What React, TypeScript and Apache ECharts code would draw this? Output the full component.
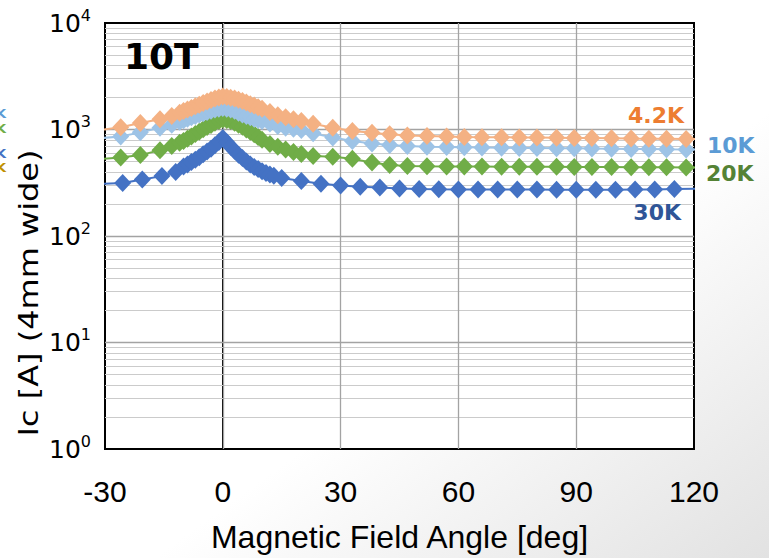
import React, { useEffect, useRef } from "react";
import * as echarts from "echarts";

// Magnetic field angle [deg] sample points (4.2K, 10K, 20K share these)
const anglesA = [
  -31, -26, -21, -16, -13, -11, -10, -9, -8, -7, -6, -5, -4, -3, -2, -1, 0, 1, 2, 3, 4, 5, 6, 7, 8, 9, 10,
  12, 14, 16, 18, 20, 23, 28, 33, 38, 42.5, 47, 52, 57, 61.5, 66, 71, 75.5, 80, 85, 89.5, 94, 99, 104,
  108.5, 113, 118, 123,
];
const ic42K = [
  990, 1050, 1150, 1250, 1340, 1440, 1490, 1540, 1590, 1650, 1710, 1770, 1830, 1890, 1950, 2000, 2040,
  2020, 1990, 1950, 1900, 1850, 1790, 1730, 1680, 1620, 1570, 1460, 1360, 1300, 1250, 1200, 1130, 1040,
  970, 930, 900, 880, 870, 860, 852, 848, 845, 842, 840, 836, 832, 830, 826, 822, 820, 818, 815, 812,
];
const ic10K = [
  830, 860, 940, 1040, 1110, 1180, 1220, 1260, 1300, 1340, 1380, 1420, 1460, 1500, 1540, 1570, 1590,
  1570, 1540, 1500, 1440, 1380, 1340, 1300, 1260, 1230, 1200, 1140, 1080, 1040, 1015, 990, 920, 840,
  780, 740, 715, 700, 690, 685, 680, 678, 675, 672, 670, 668, 665, 662, 660, 657, 655, 652, 650, 648,
];
const ic20K = [
  530, 545, 575, 640, 700, 750, 780, 820, 860, 905, 955, 1005, 1055, 1105, 1155, 1200, 1240, 1230, 1200,
  1160, 1110, 1060, 1000, 950, 900, 850, 800, 730, 690, 650, 615, 590, 565, 555, 530, 490, 465, 455,
  452, 450, 450, 449, 448, 447, 446, 446, 445, 445, 444, 443, 442, 441, 440, 439,
];
// 30K sample points
const anglesB = [
  -35, -30.5, -25.5, -20.5, -15.5, -12, -10, -9, -8, -7, -6, -5, -4, -3, -2, -1, 0, 1, 2, 3, 4, 5, 6, 7, 8,
  9, 10, 11, 12, 13, 15, 20, 25, 30, 35, 40, 45, 50, 55, 60, 65, 70, 75, 80, 85, 90, 95, 100, 105, 110,
  115, 120.5,
];
const ic30K = [
  305, 310, 315, 340, 365, 400, 450, 470, 495, 520, 550, 585, 620, 660, 710, 765, 830, 760, 690, 630,
  580, 540, 500, 470, 445, 425, 405, 390, 378, 368, 350, 328, 310, 298, 290, 285, 280, 277, 275, 274,
  274, 273, 273, 273, 272, 272, 272, 272, 273, 274, 276, 278,
];

const xTicks = [-30, 0, 30, 60, 90, 120];
const yMajor = [1, 10, 100, 1000, 10000];
const seriesNames = ["30K", "20K", "10K", "4.2K"];
const seriesColors = ["#4472C4", "#70AD47", "#9DC3E6", "#F4B183"];
const labelColors = ["#2F5597", "#548235", "#5B9BD5", "#ED7D31"];
const cutLegendColors = ["#5B9BD5", "#70AD47", "#4472C4", "#BF9000"];
const cutLegendY = [113, 128, 153, 167];

export default function App() {
  const ref = useRef<HTMLDivElement>(null);
  useEffect(() => {
    const chart = echarts.init(ref.current as HTMLDivElement, null, { renderer: "svg" });
    const pairs = (xs: number[], ys: number[]) => xs.map((x, i) => [x, ys[i]]);
    const minorVals: number[] = [];
    for (let k = 0; k < yMajor.length - 1; k++) {
      for (let m = 2; m <= 9; m++) minorVals.push(m * yMajor[k]);
    }
    const innerX = xTicks.slice(1, -1);
    const innerY = yMajor.slice(1, -1);
    const dataSets = [pairs(anglesB, ic30K), pairs(anglesA, ic20K), pairs(anglesA, ic10K), pairs(anglesA, ic42K)];
    const font = "DejaVu Sans";
    const xFont = "'Liberation Sans', Arial, sans-serif";

    const series: any[] = dataSets.map((d, i) => ({
      name: seriesNames[i],
      type: "line",
      data: d,
      symbol: "diamond",
      symbolSize: [17, 18],
      clip: true,
      z: 3 + i,
      itemStyle: { color: seriesColors[i] },
      lineStyle: { color: seriesColors[i], width: 2 },
    }));
    series.push({
      type: "line",
      data: [],
      silent: true,
      z: 1,
      markLine: {
        silent: true,
        z: 1,
        symbol: ["none", "none"],
        label: { show: false },
        animation: false,
        data: [
          ...minorVals.map((v) => ({ yAxis: v, lineStyle: { color: "#cbcbcb", width: 1, type: "solid" } })),
          ...innerY.map((v) => ({ yAxis: v, lineStyle: { color: "#a3a3a3", width: 1.3, type: "solid" } })),
          ...innerX.map((v) => ({ xAxis: v, lineStyle: { color: "#a3a3a3", width: 1.3, type: "solid" } })),
        ],
      },
    });

    const txt = (x: number, y: number, text: string, f: string, fill: string, align: string, extra: any = {}) => ({
      type: "text",
      x,
      y,
      z: 50,
      ...extra,
      style: { text, font: f, fill, align, verticalAlign: "middle", stroke: "none", lineWidth: 0 },
    });

    const option: any = {
      animation: false,
      backgroundColor: {
        type: "linear",
        x: 0,
        y: 0,
        x2: 1,
        y2: 1,
        colorStops: [
          { offset: 0, color: "#ffffff" },
          { offset: 0.6, color: "#ffffff" },
          { offset: 1, color: "#e2e2e2" },
        ],
      },
      grid: {
        left: 105,
        right: 75,
        top: 23,
        bottom: 105,
        show: true,
        backgroundColor: "#ffffff",
        borderColor: "#000",
        borderWidth: 2,
      },
      xAxis: {
        type: "value",
        min: -30,
        max: 120,
        interval: 30,
        axisLine: { show: true, lineStyle: { color: "#000", width: 2 } },
        axisTick: { show: false },
        splitLine: { show: false },
        axisLabel: { color: "#000", fontSize: 30, fontFamily: xFont, margin: 27 },
        name: "Magnetic Field Angle [deg]",
        nameLocation: "middle",
        nameGap: 72,
        nameTextStyle: { color: "#000", fontSize: 32, fontFamily: xFont },
      },
      yAxis: {
        type: "log",
        logBase: 10,
        min: 1,
        max: 10000,
        splitNumber: 4,
        axisLine: { show: true, lineStyle: { color: "#000", width: 2 } },
        axisTick: { show: false },
        splitLine: { show: false },
        axisLabel: {
          margin: 14,
          formatter: (v: number) => `{b|10}{s|${Math.round(Math.log10(v))}}`,
          rich: {
            b: { fontSize: 25, fontFamily: font, color: "#000", lineHeight: 32 },
            s: { fontSize: 16, fontFamily: font, color: "#000", lineHeight: 12, verticalAlign: "top" },
          },
        },
      },
      graphic: [
        txt(28, 293, "Ic [A] (4mm wide)", `32px ${font}`, "#000", "center", { rotation: Math.PI / 2, scaleY: 0.85 }),
        txt(124, 56, "10T", `bold 36px ${font}`, "#000", "left"),
        txt(684, 115, "4.2K", `bold 22px ${font}`, labelColors[3], "right"),
        txt(707, 145, "10K", `bold 22px ${font}`, labelColors[2], "left"),
        txt(706, 173, "20K", `bold 22px ${font}`, labelColors[1], "left"),
        txt(681, 212, "30K", `bold 22px ${font}`, labelColors[0], "right"),
        ...cutLegendY.map((y, i) => txt(6, y, "K", `bold 13px ${font}`, cutLegendColors[i], "right")),
      ],
      series,
    };
    chart.setOption(option);
    return () => chart.dispose();
  }, []);
  return <div ref={ref} style={{ position: "fixed", left: 0, top: 0, width: 769, height: 558 }} />;
}
